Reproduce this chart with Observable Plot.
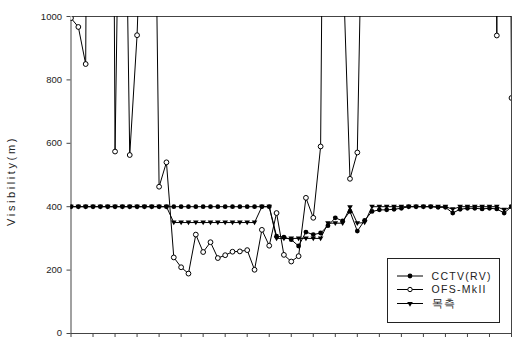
<!DOCTYPE html>
<html>
<head>
<meta charset="utf-8">
<script src="https://cdn.jsdelivr.net/npm/d3@7"></script>
<script src="https://cdn.jsdelivr.net/npm/@observablehq/plot@0.6"></script>
<style>
  html, body { margin: 0; padding: 0; background: #fff; }
  #chart { width: 512px; height: 337px; overflow: hidden; }
  svg text { font-family: "Liberation Sans", Arial, sans-serif; }
</style>
</head>
<body>
<div id="chart"></div>
<script>
// ---- data ----
const seriesNames = ["CCTV(RV)", "OFS-MkII", "목측"];
const yTicks = [0, 200, 400, 600, 800, 1000];
const yTitle = "Visibility(m)";

const cctv = [
  400, 400, 400, 400, 400, 400, 400, 400, 400, 400,
  400, 400, 400, 400, 400, 400, 400, 400, 400, 400,
  400, 400, 400, 400, 400, 400, 400, 400, 307, 304,
  296, 276, 320, 312, 317, 340, 365, 355, 385, 323,
  357, 385, 390, 390, 392, 395, 400, 400, 400, 400,
  398, 398, 380, 392, 395, 395, 393, 395, 393, 380,
  400
];
const ofs = [
  995, 967, 850, 5000, 5000, 5000, 574, 2150, 563, 941,
  1600, 2300, 463, 540, 240, 209, 189, 312, 257, 288,
  238, 247, 258, 259, 263, 201, 327, 277, 380, 248,
  227, 244, 428, 365, 590, 3500, 3000, 1200, 488, 571,
  1800, 3000, 3000, 3000, 3000, 3000, 3000, 3000, 3000, 3000,
  3000, 3000, 3000, 3000, 3000, 3000, 3000, 4000, 940, 5000,
  743
];
const mokcheuk = [
  400, 400, 400, 400, 400, 400, 400, 400, 400, 400,
  400, 400, 400, 400, 350, 350, 350, 350, 350, 350,
  350, 350, 350, 350, 350, 350, 400, 400, 300, 300,
  300, 300, 300, 300, 300, 348, 348, 348, 398, 348,
  350, 400, 400, 400, 400, 400, 400, 400, 400, 400,
  400, 400, 392, 400, 400, 400, 400, 400, 400, 390,
  400
];

// ---- build table ----
const idx = cctv.map((_, i) => i);
const rowsC = idx.map(i => ({x: i, y: cctv[i]}));
const rowsO = idx.map(i => ({x: i, y: ofs[i]}));
const rowsM = idx.map(i => ({x: i, y: mokcheuk[i]}));

const triDown = {
  draw(ctx, size) {
    const k = Math.sqrt(size / (Math.PI * 4.84));
    ctx.moveTo(-2.8 * k, -2.0 * k);
    ctx.lineTo(2.8 * k, -2.0 * k);
    ctx.lineTo(0, 2.8 * k);
    ctx.closePath();
  }
};

const chart = Plot.plot({
  width: 512,
  height: 337,
  marginLeft: 70.5,
  marginRight: 1,
  marginTop: 16,
  marginBottom: 4,
  style: {fontFamily: "Liberation Sans, Arial, sans-serif", background: "#fff"},
  x: {domain: [0, cctv.length - 1]},
  y: {domain: [0, 1000]},
  marks: [
    Plot.frame({stroke: "#444", strokeWidth: 1}),
    Plot.axisY({ticks: yTicks, tickSize: 4, tickPadding: 5, label: null, tickFormat: d => String(d),
      fontSize: 9.5, stroke: "#444", fill: "#222", style: {letterSpacing: "1.4px"}}),
    Plot.axisX({ticks: idx.filter(i => i % 3 === 0), tickSize: 4, tickFormat: () => "",
      label: null, stroke: "#444"}),
    Plot.line(rowsC, {x: "x", y: "y", stroke: "#000", strokeWidth: 1, clip: true}),
    Plot.line(rowsO, {x: "x", y: "y", stroke: "#000", strokeWidth: 1, clip: true}),
    Plot.line(rowsM, {x: "x", y: "y", stroke: "#000", strokeWidth: 1, clip: true}),
    Plot.dot(rowsC, {x: "x", y: "y", r: 2.4, fill: "#000", stroke: "none", clip: true}),
    Plot.dot(rowsM, {x: "x", y: "y", r: 2.2, symbol: triDown, fill: "#000", stroke: "none", clip: true}),
    Plot.dot(rowsO.filter(d => d.y <= 1000), {x: "x", y: "y", r: 2.4, fill: "#fff", stroke: "#000", strokeWidth: 1, clip: true})
  ]
});

document.getElementById("chart").appendChild(chart);

// nudge the bottom "0" tick label so it is not clipped at the lower edge
d3.select(chart).selectAll("[aria-label='y-axis tick label'] text")
  .filter(function() { return this.textContent === "0"; })
  .attr("dy", "-0.05em");

// ---- y title and legend ----
const svg = d3.select(chart);
svg.append("text")
  .attr("transform", "translate(15,181) rotate(-90)")
  .attr("text-anchor", "middle")
  .style("font-size", "11px")
  .style("letter-spacing", "2.6px")
  .attr("fill", "#222")
  .text(yTitle);

const lg = svg.append("g");
lg.append("rect").attr("x", 387.5).attr("y", 258.5).attr("width", 112).attr("height", 64)
  .attr("fill", "#fff").attr("stroke", "#222").attr("stroke-width", 1);
const rowY = [276, 289.5, 303.5];
seriesNames.forEach((name, k) => {
  const y = rowY[k];
  lg.append("line").attr("x1", 397).attr("x2", 423).attr("y1", y).attr("y2", y)
    .attr("stroke", "#000").attr("stroke-width", 1);
  if (k === 0) lg.append("circle").attr("cx", 410).attr("cy", y).attr("r", 2.4).attr("fill", "#000");
  if (k === 1) lg.append("circle").attr("cx", 410).attr("cy", y).attr("r", 2.2).attr("fill", "#fff").attr("stroke", "#000");
  if (k === 2) lg.append("path").attr("d", "M407.2,302L412.8,302L410,306.8Z").attr("fill", "#000").attr("transform", `translate(0,${y - 303.5})`);
  lg.append("text").attr("x", 431.5).attr("y", y).attr("dy", "0.36em").attr("text-anchor", "start")
    .style("font-size", "10.5px").style("letter-spacing", "1.3px").attr("fill", "#222").text(name);
});
</script>
</body>
</html>
